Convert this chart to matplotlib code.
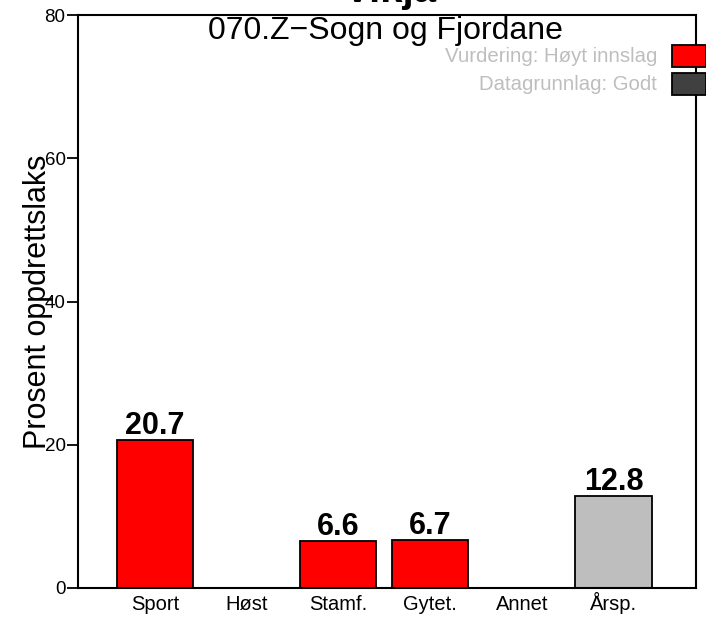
import numpy as np
import matplotlib
matplotlib.use("Agg")
import matplotlib.pyplot as plt
from matplotlib.patches import Rectangle

plt.rcParams['font.family'] = ['Liberation Sans', 'DejaVu Sans']

# data
categories = ["Sport", "Høst", "Stamf.", "Gytet.", "Annet", "Årsp."]
values = [20.7, None, 6.6, 6.7, None, 12.8]
bar_colors = ["#FF0000", "#FF0000", "#FF0000", "#FF0000", "#FF0000", "#BEBEBE"]
yticks = [0, 20, 40, 60, 80]

title = "Vikja"
subtitle = "070.Z\u2212Sogn og Fjordane"
legend_labels = ["Vurdering: Høyt innslag", "Datagrunnlag: Godt"]
legend_colors = ["#FF0000", "#404040"]

W, H = 706, 618
fig = plt.figure(figsize=(W / 100, H / 100), dpi=100)
ax = fig.add_axes([78 / W, 1 - 588 / H, (696 - 78) / W, (588 - 15) / H])

x = np.arange(1, len(categories) + 1)
for xi, v, c in zip(x, values, bar_colors):
    if v is None:
        continue
    ax.bar(xi, v, width=0.83, color=c, edgecolor="black", linewidth=1.3)
    ax.annotate("%.1f" % v, (xi, v), xytext=(0, 6), textcoords="offset pixels",
                ha="center", va="baseline", fontsize=22, fontweight="bold")

ax.set_xlim(0.161, 6.899)
ax.set_ylim(0, 80)
ax.set_xticks(x)
ax.set_xticklabels(categories, fontsize=14.5)
for lab in ax.get_xticklabels():
    lab.set_verticalalignment("baseline")
ax.set_yticks(yticks)
ax.set_yticklabels([str(t) for t in yticks], fontsize=13.5)
ax.tick_params(axis="x", length=0, pad=16)
ax.tick_params(axis="y", length=8, width=1.3, pad=1)
for s in ax.spines.values():
    s.set_linewidth(1.5)

ax.text((38 - 78) / (696 - 78), 0.5, "Prosent oppdrettslaks", rotation=90,
        transform=ax.transAxes, ha="center", va="center", fontsize=22)

# title sits partly outside the figure, like the reference
fig.text(390 / W, 1 - 2 / H, title, ha="center", va="baseline",
         fontsize=29, fontweight="bold")
fig.text(385 / W, 1 - 39 / H, subtitle, ha="center", va="baseline", fontsize=23)

# legend-like labels with squares at the right edge
for i, (lab, col) in enumerate(zip(legend_labels, legend_colors)):
    yc = 56 + i * 28
    fig.text(657 / W, 1 - yc / H, lab, ha="right", va="center",
             fontsize=14.7, color="#BEBEBE")
    fig.patches.append(Rectangle((672 / W, 1 - (yc + 11) / H), 34 / W, 22 / H,
                                 transform=fig.transFigure, facecolor=col,
                                 edgecolor="black", linewidth=1.3, zorder=5))

fig.savefig("out.png", dpi=100)
